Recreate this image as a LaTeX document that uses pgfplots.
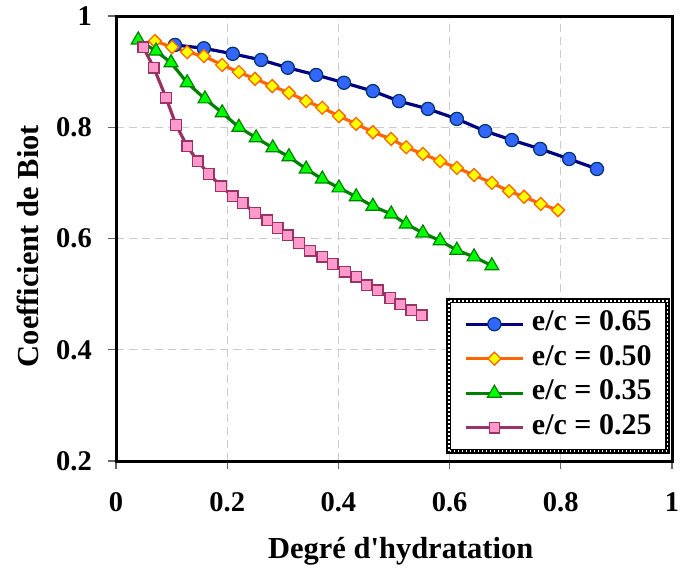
\documentclass[border=0pt]{standalone}
\usepackage{pgfplots}
\pgfplotsset{compat=1.18}
\usepackage{fontspec}
\setmainfont{Liberation Serif}
\definecolor{bline}{RGB}{0,0,128}
\definecolor{bfill}{RGB}{51,102,255}
\definecolor{bedge}{RGB}{0,51,102}
\definecolor{oline}{RGB}{255,102,0}
\definecolor{ofill}{RGB}{255,255,0}
\definecolor{gline}{RGB}{0,128,0}
\definecolor{gfill}{RGB}{0,255,0}
\definecolor{pline}{RGB}{153,51,102}
\definecolor{pfill}{RGB}{255,153,204}
\begin{document}
\begin{tikzpicture}[x=1pt,y=1pt]
\path[use as bounding box] (0,0) rectangle (680,568);
\begin{axis}[
  at={(116pt,107pt)}, anchor=south west,
  scale only axis, width=556pt, height=445pt,
  xmin=0, xmax=1, ymin=0.2, ymax=1,
  xtick={0,0.2,0.4,0.6,0.8,1}, xticklabels={0,0.2,0.4,0.6,0.8,1},
  ytick={0.2,0.4,0.6,0.8,1}, yticklabels={0.2,0.4,0.6,0.8,1},
  xtick pos=left, ytick pos=left,
  axis line style={line width=3pt, black},
  tick align=outside, major tick length=8pt,
  tick style={black!60, line width=1.2pt},
  grid=major, major grid style={black!20, line width=1pt, dash pattern=on 8pt off 5pt},
  /pgf/number format/assume math mode=true,
  ticklabel style={font=\bfseries\fontsize{28.5}{28.5}\selectfont, inner sep=0pt},
  xticklabel style={anchor=north, yshift=-23pt},
  yticklabel style={anchor=east, xshift=-16pt},
  xlabel={Degré d\textquotesingle hydratation}, ylabel={Coefficient de Biot},
  label style={font=\bfseries\fontsize{30.5}{30.5}\selectfont, inner sep=0pt},
  xlabel style={at={(axis description cs:0.512,-0.218)}, anchor=base},
  ylabel style={at={(axis description cs:-0.158,0.483)}, anchor=center},
  legend style={at={(axis description cs:0.992,0.022)}, anchor=south east,
    name=leg,
    font=\bfseries\fontsize{30}{30}\selectfont,
    draw=none, fill=white, outer sep=0pt,
    inner xsep=16pt, inner ysep=10pt, row sep=7.5pt, column sep=7pt,
    cells={anchor=west},
    nodes={inner sep=0pt, text height=20pt, text depth=7pt}},
  legend image code/.code={\draw[mark repeat=2, mark phase=2] plot coordinates {(0pt,0pt) (28pt,0pt) (57pt,0pt)};},
]
\addplot[color=bline, line width=3.2pt, mark=*, mark size=6.6pt,
  mark options={fill=bfill, draw=bedge, line width=1.2pt, solid}]
coordinates {(0.106,0.948)(0.158,0.942)(0.210,0.932)(0.261,0.921)(0.309,0.907)(0.360,0.894)(0.410,0.880)(0.462,0.865)(0.509,0.847)(0.561,0.833)(0.613,0.815)(0.664,0.793)(0.712,0.777)(0.763,0.761)(0.815,0.743)(0.865,0.725)};
\addlegendentry{e/c = 0.65}
\addplot[color=oline, line width=3.2pt, mark=square*, mark size=4.6pt,
  mark options={fill=ofill, draw=oline, line width=1.3pt, solid, rotate=45}]
coordinates {(0.070,0.955)(0.101,0.944)(0.128,0.935)(0.158,0.928)(0.191,0.912)(0.221,0.899)(0.250,0.887)(0.281,0.874)(0.311,0.862)(0.342,0.847)(0.371,0.835)(0.401,0.820)(0.432,0.806)(0.462,0.791)(0.495,0.779)(0.522,0.764)(0.552,0.752)(0.583,0.739)(0.613,0.727)(0.644,0.714)(0.676,0.700)(0.707,0.685)(0.734,0.675)(0.764,0.662)(0.795,0.651)};
\addlegendentry{e/c = 0.50}
\addplot[color=gline, line width=3.2pt, mark=triangle*, mark size=8pt,
  mark options={fill=gfill, draw=gline, line width=1.2pt, solid}]
coordinates {(0.040,0.957)(0.072,0.937)(0.099,0.916)(0.128,0.880)(0.160,0.851)(0.191,0.826)(0.221,0.800)(0.252,0.781)(0.282,0.763)(0.311,0.747)(0.342,0.725)(0.371,0.707)(0.401,0.691)(0.432,0.675)(0.462,0.658)(0.495,0.644)(0.522,0.626)(0.552,0.610)(0.583,0.596)(0.613,0.579)(0.644,0.567)(0.676,0.551)};
\addlegendentry{e/c = 0.35}
\addplot[color=pline, line width=3.2pt, mark=square*, mark size=5.2pt,
  mark options={fill=pfill, draw=pline, line width=1.2pt, solid}]
coordinates {(0.049,0.944)(0.068,0.907)(0.090,0.853)(0.108,0.804)(0.128,0.766)(0.147,0.739)(0.167,0.716)(0.189,0.694)(0.210,0.676)(0.228,0.664)(0.250,0.646)(0.272,0.633)(0.291,0.619)(0.309,0.606)(0.329,0.592)(0.349,0.578)(0.371,0.567)(0.390,0.554)(0.412,0.540)(0.432,0.531)(0.451,0.516)(0.471,0.507)(0.493,0.493)(0.511,0.482)(0.531,0.471)(0.550,0.462)};
\addlegendentry{e/c = 0.25}
\end{axis}
\draw[black, line width=5pt] (leg.south west) rectangle (leg.north east);
\draw[white, line width=1.6pt, dash pattern=on 1.8pt off 2.2pt] (leg.south west) rectangle (leg.north east);
\end{tikzpicture}
\end{document}
